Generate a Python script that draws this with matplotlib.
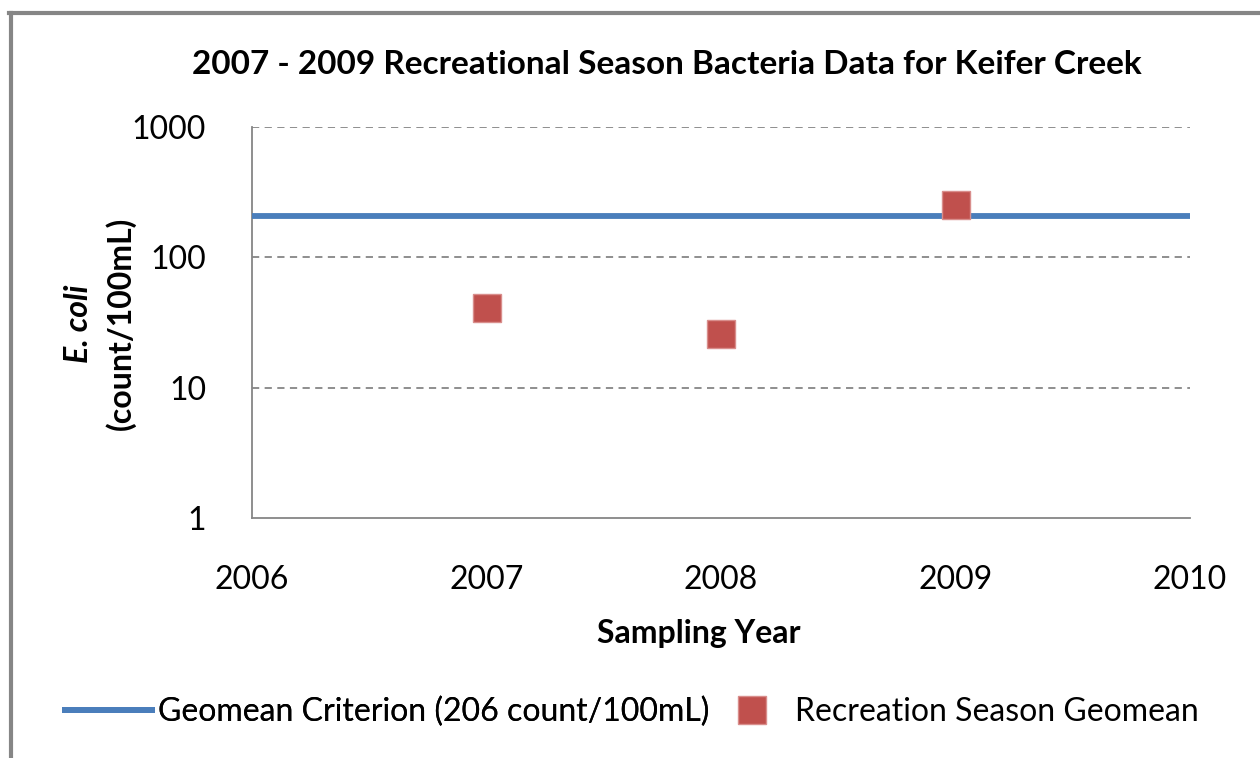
import matplotlib
matplotlib.use("Agg")
import matplotlib.pyplot as plt
from matplotlib.lines import Line2D

# Data
years = [2007, 2008, 2009]
season_geomean = [41, 26, 252]
criterion = 206
x_ticks = [2006, 2007, 2008, 2009, 2010]
y_ticks = [1, 10, 100, 1000]
y_tick_labels = ["1", "10", "100", "1000"]
title = "2007 - 2009 Recreational Season Bacteria Data for Keifer Creek"
xlabel = "Sampling Year"
line_label = "Geomean Criterion (206 count/100mL)"
marker_label = "Recreation Season Geomean"

W, H = 1260, 758
FONT = "Lato"
FS = 23

fig = plt.figure(figsize=(W / 100, H / 100), dpi=100)
fig.patch.set_facecolor("white")

def fx(px):
    return px / W

def fy(py):
    return 1 - py / H

ax = fig.add_axes([fx(252), fy(518), fx(1190) - fx(252), fy(127) - fy(518)])
ax.set_yscale("log")
ax.set_xlim(2006, 2010)
ax.set_ylim(1, 1000)

ax.plot([2006, 2010], [criterion, criterion], color="#4A7EBB", lw=4.2,
        solid_capstyle="butt", zorder=3)
ax.plot(years, season_geomean, linestyle="none", marker="s", markersize=20,
        markerfacecolor="#C0504D", markeredgecolor="#D98E8C", markeredgewidth=1,
        zorder=4)

ax.set_xticks(x_ticks)
ax.set_xticklabels([str(t) for t in x_ticks], fontfamily=FONT, fontsize=FS)
ax.set_yticks(y_ticks)
ax.set_yticklabels(y_tick_labels, fontfamily=FONT, fontsize=FS)
ax.yaxis.set_minor_locator(matplotlib.ticker.NullLocator())
ax.tick_params(axis="both", length=0, colors="black")
ax.tick_params(axis="x", pad=34)
ax.tick_params(axis="y", pad=33)

for t in [10, 100, 1000]:
    ax.axhline(t, color="#868686", lw=1.3, ls=(0, (4, 3)), zorder=1)

for s in ["top", "right"]:
    ax.spines[s].set_visible(False)
for s in ["left", "bottom"]:
    ax.spines[s].set_color("#868686")
    ax.spines[s].set_linewidth(1.3)

# Title and axis labels
fig.text(fx(667), fy(64), title, ha="center", va="center",
         fontfamily=FONT, fontweight="bold", fontsize=24)
fig.text(fx(699), fy(634), xlabel, ha="center", va="center",
         fontfamily=FONT, fontweight="bold", fontsize=FS)
fig.text(fx(79), fy(324), "E. coli", ha="center", va="center", rotation=90,
         fontfamily=FONT, fontweight="bold", fontstyle="italic", fontsize=FS)
fig.text(fx(120), fy(323), "(count/100mL)", ha="center", va="center", rotation=90,
         fontfamily=FONT, fontweight="bold", fontsize=FS)

# Legend
fsize_px = FS * 100 / 72
h1 = Line2D([], [], color="#4A7EBB", lw=4.2, solid_capstyle="butt")
leg1 = fig.legend([h1], [line_label], loc="center left",
                  bbox_to_anchor=(fx(62), fy(712)), frameon=False,
                  borderpad=0, borderaxespad=0, handlelength=93 / fsize_px,
                  handletextpad=3 / fsize_px, prop={"family": FONT, "size": FS})
h2 = Line2D([], [], linestyle="none", marker="s", markersize=20,
            markerfacecolor="#C0504D", markeredgecolor="#D98E8C", markeredgewidth=1)
leg2 = fig.legend([h2], [marker_label], loc="center left",
                  bbox_to_anchor=(fx(752 - fsize_px / 2), fy(712)), frameon=False,
                  borderpad=0, borderaxespad=0, handlelength=1.0,
                  handletextpad=(795 - 752 - fsize_px / 2) / fsize_px,
                  prop={"family": FONT, "size": FS})
fig.add_artist(leg1)

# Outer border (top and left visible)
fig.add_artist(Line2D([fx(10.5), fx(10.5)], [fy(12.5), 0], color="#868686", lw=3,
                      transform=fig.transFigure))
fig.add_artist(Line2D([fx(9), 1], [fy(12.5), fy(12.5)], color="#868686", lw=3,
                      transform=fig.transFigure))

fig.savefig("out.png", dpi=100, facecolor="white")
